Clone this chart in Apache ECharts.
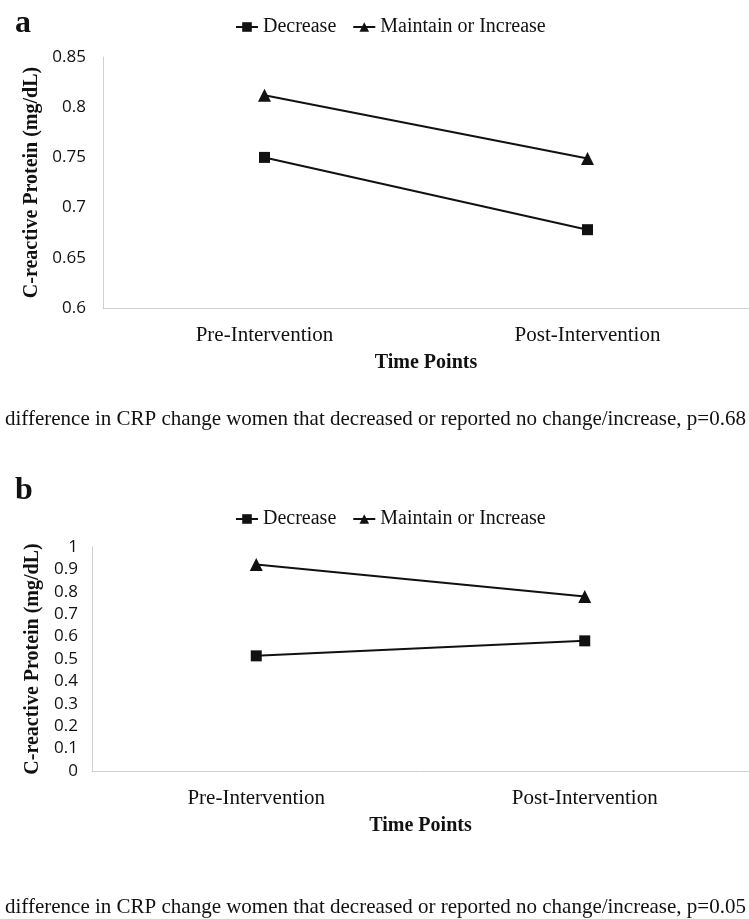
<!DOCTYPE html>
<html><head><meta charset="utf-8">
<style>html,body{margin:0;padding:0;background:#fff}#c{width:749px;height:919px}</style>
<script src="https://cdn.jsdelivr.net/npm/echarts@6/dist/echarts.min.js"></script>
</head><body><div id="c"></div>
<script>
var categories = ['Pre-Intervention', 'Post-Intervention'];
var seriesNames = ['Decrease', 'Maintain or Increase'];
var aDecrease = [0.75, 0.678];
var aMaintain = [0.812, 0.749];
var bDecrease = [0.514, 0.581];
var bMaintain = [0.922, 0.779];
var yTitle = 'C-reactive Protein (mg/dL)';
var xTitle = 'Time Points';
var captionA = 'difference in CRP change women that decreased or reported no change/increase, p=0.68';
var captionB = 'difference in CRP change women that decreased or reported no change/increase, p=0.05';

var serif = 'Liberation Serif';
var sans = 'Open Sans, sans-serif';
var chart = echarts.init(document.getElementById('c'), null, {renderer: 'canvas'});

function xAx(gi) {
  return {
    type: 'category', gridIndex: gi, data: categories, boundaryGap: true,
    axisLine: {lineStyle: {color: '#d0d0d0', width: 1}}, axisTick: {show: false},
    axisLabel: {color: '#111', fontFamily: serif, fontSize: 21, margin: 17},
    name: xTitle, nameLocation: 'middle', nameGap: 45,
    nameTextStyle: {color: '#111', fontFamily: serif, fontSize: 20, fontWeight: 'bold'}
  };
}
function yAx(gi, min, max, interval, gap, margin) {
  return {
    type: 'value', gridIndex: gi, min: min, max: max, interval: interval,
    axisLine: {show: true, lineStyle: {color: '#d0d0d0', width: 1}}, axisTick: {show: false},
    splitLine: {show: false},
    axisLabel: {color: '#111', fontFamily: sans, fontSize: 17, margin: margin},
    name: yTitle, nameLocation: 'middle', nameGap: gap, nameRotate: 90,
    nameTextStyle: {color: '#111', fontFamily: serif, fontSize: 20, fontWeight: 'bold'}
  };
}
function ser(name, gi, data, sym, size) {
  return {
    name: name, type: 'line', xAxisIndex: gi, yAxisIndex: gi, data: data,
    symbol: sym, symbolSize: size, showSymbol: true,
    lineStyle: {color: '#111', width: 2}, itemStyle: {color: '#111'},
    animation: false
  };
}
function leg(top) {
  return {
    top: top, left: 230, itemWidth: 22, itemHeight: 12, itemGap: 16,
    data: [{name: seriesNames[0]}, {name: seriesNames[1]}],
    textStyle: {color: '#111', fontFamily: serif, fontSize: 20},
    selectedMode: false
  };
}

chart.setOption({
  backgroundColor: '#fff',
  animation: false,
  title: [
    {text: 'a', left: 10, top: 8, padding: [0, 5, 0, 5], textStyle: {fontFamily: serif, fontSize: 32, fontWeight: 'bold', color: '#111'}},
    {text: 'b', left: 10, top: 475, padding: [0, 5, 0, 5], textStyle: {fontFamily: serif, fontSize: 32, fontWeight: 'bold', color: '#111'}},
    {text: captionA, left: 0, top: 404, textStyle: {fontFamily: serif, fontSize: 21, fontWeight: 'normal', color: '#111'}},
    {text: captionB, left: 0, top: 892, textStyle: {fontFamily: serif, fontSize: 21, fontWeight: 'normal', color: '#111'}}
  ],
  legend: [leg(12), leg(504)],
  grid: [
    {left: 103, top: 57, width: 650, height: 251},
    {left: 92, top: 547, width: 662, height: 224}
  ],
  xAxis: [xAx(0), xAx(1)],
  yAxis: [yAx(0, 0.6, 0.85, 0.05, 58, 17), yAx(1, 0, 1, 0.1, 49, 14)],
  series: [
    ser(seriesNames[0], 0, aDecrease, 'rect', 11),
    ser(seriesNames[1], 0, aMaintain, 'triangle', 13),
    ser(seriesNames[0], 1, bDecrease, 'rect', 11),
    ser(seriesNames[1], 1, bMaintain, 'triangle', 13)
  ]
});
</script></body></html>
